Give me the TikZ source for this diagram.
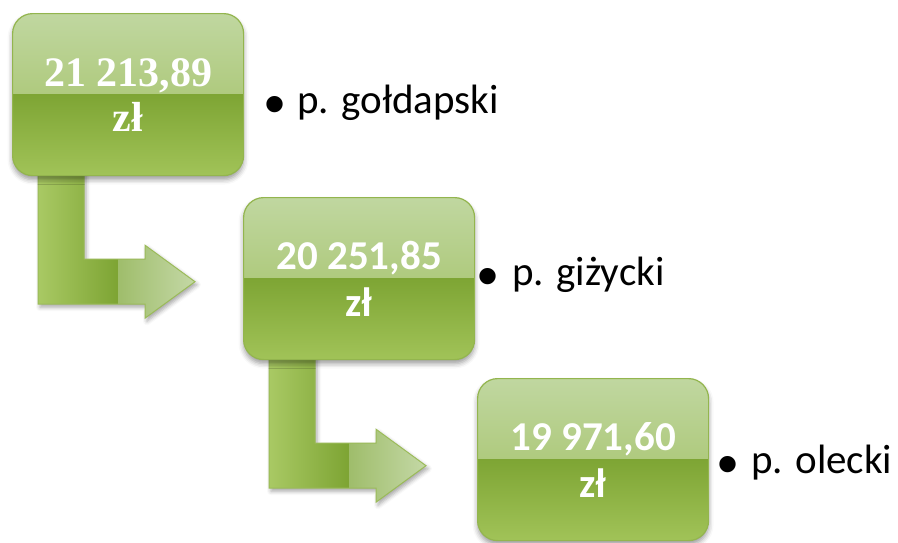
\documentclass[tikz,border=0pt]{standalone}
\usepackage{fontspec}
\setmainfont{Carlito}
\newfontfamily\serifbold{Liberation Serif}
\newfontfamily\dotfont{Liberation Sans}
\usetikzlibrary{positioning,shadows.blur,backgrounds}

\definecolor{boxline}{HTML}{93B54E}
\definecolor{topA}{HTML}{C0D7A0}
\definecolor{topB}{HTML}{9EBD5C}
\definecolor{botA}{HTML}{7EA534}
\definecolor{botB}{HTML}{A1C358}
\definecolor{stemA}{HTML}{A9C964}
\definecolor{stemB}{HTML}{7DA433}
\definecolor{headA}{HTML}{9FBD6B}
\definecolor{headB}{HTML}{C4D8A6}
\definecolor{arrowline}{HTML}{9BBB59}

\newcommand{\bigdot}{\raisebox{-11pt}{\dotfont\fontsize{60}{60}\selectfont •}}

\begin{document}
\begin{tikzpicture}[
    x=1pt, y=-1pt,
    box/.style={draw=boxline, line width=1.2pt, rounded corners=20pt,
      minimum width=231pt, minimum height=162pt, inner sep=0pt,
      text=white, align=center,
      blur shadow={shadow xshift=0pt, shadow yshift=-4pt, shadow blur radius=5pt, shadow opacity=40},
      path picture={
        \shade[sharp corners, top color=topA, bottom color=topB] (path picture bounding box.north west) rectangle (path picture bounding box.east);
        \shade[sharp corners, top color=botA, bottom color=botB] (path picture bounding box.west) rectangle (path picture bounding box.south east);
      }},
    amount/.style={font=\bfseries\fontsize{41}{47}\selectfont},
    place/.style={anchor=base west, inner sep=0pt, font=\fontsize{41}{48}\selectfont},
    arrowshadow/.style={blur shadow={shadow xshift=2pt, shadow yshift=-3pt, shadow blur radius=4pt, shadow opacity=35}}
]
\useasboundingbox (0,0) rectangle (898,542);

\node[box, anchor=north west, font=\serifbold\bfseries\fontsize{42}{45}\selectfont] (b1) at (12,13) {21 213,89\\zł};
\node[box, amount, anchor=north west] (b2) at (243,197) {20 251,85\\zł};
\node[box, amount, anchor=north west] (b3) at (477,378) {19 971,60\\zł};

\node[place] (t1) at (264,113) {\bigdot\hspace{12pt}p. gołdapski};
\node[place] (t2) at (477,285) {\bigdot\hspace{14pt}p. giżycki};
\node[place] (t3) at (717,473) {\bigdot\hspace{13pt}p. olecki};

% bent arrows under the boxes
\begin{pgfonlayer}{background}
\foreach \from in {b1,b2} {
  \begin{scope}[shift={(\from.south west)}]
    \path[arrowshadow] (26,-5) -- (72,-5) -- (72,83) -- (133,83) -- (133,69) -- (183,105.5) -- (133,142) -- (133,128) -- (26,128) -- cycle;
    \shade[left color=stemA, right color=stemB] (26,-5) -- (72,-5) -- (72,83) -- (106,83) -- (106,128) -- (26,128) -- cycle;
    \shade[left color=headA, right color=headB] (106,83) -- (133,83) -- (133,69) -- (183,105.5) -- (133,142) -- (133,128) -- (106,128) -- cycle;
    \draw[arrowline, line width=1pt] (26,-5) -- (72,-5) -- (72,83) -- (133,83) -- (133,69) -- (183,105.5) -- (133,142) -- (133,128) -- (26,128) -- cycle;
  \end{scope}
}
\end{pgfonlayer}

\end{tikzpicture}
\end{document}
